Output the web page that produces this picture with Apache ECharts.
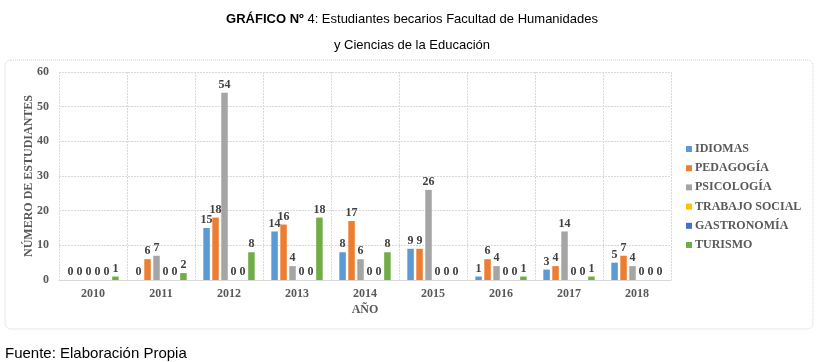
<!DOCTYPE html>
<html>
<head>
<meta charset="utf-8">
<script src="https://cdn.jsdelivr.net/npm/echarts@6/dist/echarts.min.js"></script>
<style>
html, body { margin: 0; padding: 0; background: #fff; }
#ct1 { width: 824px; height: 362px; }
</style>
</head>
<body>
<div id="ct1"></div>
<script>
var years = ['2010', '2011', '2012', '2013', '2014', '2015', '2016', '2017', '2018'];
var carreras = ['IDIOMAS', 'PEDAGOGÍA', 'PSICOLOGÍA', 'TRABAJO SOCIAL', 'GASTRONOMÍA', 'TURISMO'];
var colores = ['#5B9BD5', '#ED7D31', '#A5A5A5', '#FFC000', '#4472C4', '#70AD47'];
var idiomas = [0, 0, 15, 14, 8, 9, 1, 3, 5];
var pedagogia = [0, 6, 18, 16, 17, 9, 6, 4, 7];
var psicologia = [0, 7, 54, 4, 6, 26, 4, 14, 4];
var trabajoSocial = [0, 0, 0, 0, 0, 0, 0, 0, 0];
var gastronomia = [0, 0, 0, 0, 0, 0, 0, 0, 0];
var turismo = [1, 2, 8, 18, 8, 0, 1, 1, 0];
var yTicks = [0, 10, 20, 30, 40, 50, 60];

var valores = [idiomas, pedagogia, psicologia, trabajoSocial, gastronomia, turismo];
var serif = '"Liberation Serif", "Times New Roman", serif';
var sans = '"Liberation Sans", Arial, sans-serif';

var series = [];
for (var i = 0; i < carreras.length; i++) {
	series.push({
		name: carreras[i],
		type: 'bar',
		data: valores[i],
		barWidth: 6.5,
		barGap: '38%',
		itemStyle: { color: colores[i] },
		label: {
			show: true,
			position: 'top',
			distance: 2,
			color: '#404040',
			fontFamily: serif,
			fontWeight: 'bold',
			fontSize: 12
		}
	});
}

var option1 = {
	animation: false,
	backgroundColor: '#fff',
	color: colores,
	title: [{
		text: '{b|GRÁFICO Nº} 4: Estudiantes becarios Facultad de Humanidades',
		left: 'center',
		top: 8,
		textStyle: {
			fontFamily: sans,
			fontSize: 13,
			fontWeight: 'normal',
			color: '#000',
			rich: { b: { fontWeight: 'bold', fontSize: 13, fontFamily: sans } }
		}
	}, {
		text: 'y Ciencias de la Educación',
		left: 'center',
		top: 34,
		textStyle: { fontFamily: sans, fontSize: 13, fontWeight: 'normal', color: '#000' }
	}, {
		text: 'Fuente: Elaboración Propia',
		left: 0,
		top: 341,
		textStyle: { fontFamily: sans, fontSize: 15, fontWeight: 'normal', color: '#000' }
	}],
	graphic: [{
		type: 'rect',
		shape: { x: 5, y: 60, width: 808, height: 269, r: 6 },
		style: { fill: 'none', stroke: '#d0d0d0', lineWidth: 1, lineDash: [1, 1] },
		silent: true
	}],
	legend: {
		orient: 'vertical',
		left: 681,
		top: 138,
		itemWidth: 6,
		itemHeight: 6,
		itemGap: 7.2,
		icon: 'rect',
		textStyle: { fontFamily: serif, fontWeight: 'bold', fontSize: 12, color: '#595959', padding: [0, 0, 0, -2] },
		data: carreras
	},
	grid: { left: 59, right: 153, top: 72, bottom: 82 },
	xAxis: {
		type: 'category',
		data: years,
		name: 'AÑO',
		nameLocation: 'middle',
		nameGap: 24,
		nameMoveOverlap: false,
		nameTextStyle: { fontFamily: serif, fontWeight: 'bold', fontSize: 12, color: '#595959' },
		axisTick: { show: false },
		axisLine: { lineStyle: { color: '#d9d9d9' } },
		axisLabel: { fontFamily: serif, fontWeight: 'bold', fontSize: 12, color: '#595959', margin: 8 },
		splitLine: { show: true, interval: 0, lineStyle: { color: '#d9d9d9', type: [2, 1] } }
	},
	yAxis: {
		type: 'value',
		min: yTicks[0],
		max: yTicks[yTicks.length - 1],
		interval: 10,
		name: 'NÚMERO DE ESTUDIANTES',
		nameLocation: 'middle',
		nameGap: 24,
		nameMoveOverlap: false,
		nameTextStyle: { fontFamily: serif, fontWeight: 'bold', fontSize: 12, color: '#595959' },
		axisLabel: { fontFamily: serif, fontWeight: 'bold', fontSize: 12, color: '#595959', margin: 10 },
		axisLine: { show: false },
		axisTick: { show: false },
		splitLine: { lineStyle: { color: '#d9d9d9', type: [2, 1] } }
	},
	series: series
};

var myChart1 = echarts.init(document.getElementById('ct1'));
myChart1.setOption(option1, true);
</script>
</body>
</html>
